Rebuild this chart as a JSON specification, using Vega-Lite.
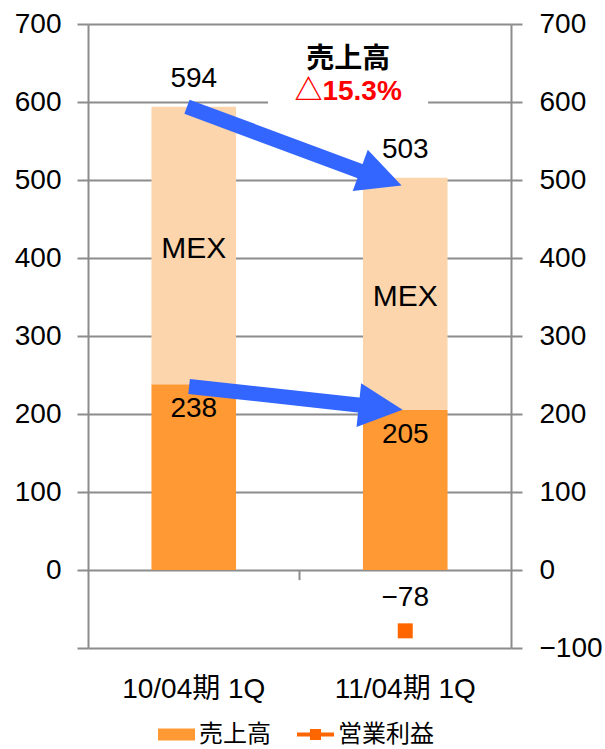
{
  "$schema": "https://vega.github.io/schema/vega-lite/v6.json",
  "width": 423,
  "height": 624,
  "autosize": {"type": "none"},
  "padding": {"left": 88, "top": 24, "right": 94, "bottom": 101},
  "config": {
    "font": "'Liberation Sans', 'Noto Sans CJK JP', sans-serif",
    "view": {"stroke": null},
    "axis": {
      "labelFont": "'Liberation Sans', 'Noto Sans CJK JP', sans-serif",
      "labelColor": "#000000",
      "domainColor": "#8C8C8C",
      "tickColor": "#8C8C8C",
      "gridColor": "#8C8C8C",
      "domainWidth": 2,
      "tickWidth": 2,
      "gridWidth": 2,
      "title": null
    },
    "legend": {
      "title": null,
      "orient": "none",
      "direction": "horizontal",
      "symbolSize": 1369,
      "symbolStrokeWidth": 0,
      "symbolOpacity": 1,
      "labelFontSize": 24,
      "labelFont": "'Noto Sans CJK JP', sans-serif",
      "labelColor": "#000000",
      "labelOffset": 4,
      "labelLimit": 300
    }
  },
  "datasets": {
    "quarters": [
      {"period": "10/04期 1Q", "sales": 594, "base_sales": 238, "segment": "MEX", "op": null},
      {"period": "11/04期 1Q", "sales": 503, "base_sales": 205, "segment": "MEX", "op": -78}
    ],
    "arrows": [
      {"arrow": "sales", "from_x": 0.468, "from_y": 594, "to_x": 1.31, "to_y": 509, "head_x": 1.385, "head_y": 502.6},
      {"arrow": "base", "from_x": 0.478, "from_y": 235.3, "to_x": 1.3, "to_y": 210.9, "head_x": 1.384, "head_y": 208.3}
    ],
    "notes": [
      {"kind": "title", "text": "売上高", "x": 1.23, "y": 653.8},
      {"kind": "change", "text": "△15.3%", "x": 1.23, "y": 613.3}
    ],
    "noteBox": [
      {"x0": 0.851, "x1": 1.608, "y0": 597.5, "y1": 636}
    ],
    "divider": [
      {"x": 1, "y0": 0, "y1": -13}
    ]
  },
  "layer": [
    {
      "data": {"name": "quarters"},
      "mark": {"type": "bar", "opacity": 1, "stroke": null},
      "encoding": {
        "x": {
          "field": "period", "type": "nominal", "sort": null,
          "scale": {"domain": ["10/04期 1Q", "11/04期 1Q"], "paddingInner": 0.6, "paddingOuter": 0.3},
          "axis": {
            "orient": "bottom", "domain": false, "ticks": false, "tickSize": 0,
            "labelAngle": 0, "labelFontSize": 28, "labelPadding": 27, "labelLimit": 300
          }
        },
        "y": {
          "field": "base_sales", "type": "quantitative",
          "scale": {"domain": [-100, 700], "nice": false},
          "axis": {
            "orient": "left", "grid": true,
            "values": [-100, 0, 100, 200, 300, 400, 500, 600, 700],
            "labelExpr": "datum.value < 0 ? '' : datum.label",
            "tickSize": 11, "labelPadding": 16, "labelFontSize": 28
          }
        },
        "fill": {
          "datum": "売上高",
          "type": "nominal",
          "scale": {"domain": ["売上高"], "range": ["#FF9933"]},
          "legend": {
            "legendX": 70,
            "legendY": 692,
            "symbolType": "M-1,-0.33H1V0.33H-1Z",
            "symbolFillColor": "#FF9933"
          }
        }
      }
    },
    {
      "data": {"name": "quarters"},
      "mark": {"type": "bar", "color": "#FCD5AC"},
      "encoding": {
        "x": {"field": "period", "type": "nominal", "sort": null, "scale": {"domain": ["10/04期 1Q", "11/04期 1Q"], "paddingInner": 0.6, "paddingOuter": 0.3}, "axis": null},
        "y": {
          "field": "sales", "type": "quantitative",
          "scale": {"domain": [-100, 700], "nice": false},
          "axis": {
            "orient": "right", "grid": false,
            "values": [-100, 0, 100, 200, 300, 400, 500, 600, 700],
            "tickSize": 11, "labelPadding": 17, "labelFontSize": 28
          }
        },
        "y2": {"field": "base_sales"}
      }
    },
    {
      "data": {"name": "noteBox"},
      "mark": {"type": "rect", "color": "#FFFFFF"},
      "encoding": {
        "x": {"field": "x0", "type": "quantitative", "scale": {"domain": [0, 2], "nice": false, "zero": false}, "axis": null},
        "x2": {"field": "x1"},
        "y": {"field": "y0", "type": "quantitative", "scale": {"domain": [-100, 700], "nice": false}, "axis": null},
        "y2": {"field": "y1"}
      }
    },
    {
      "data": {"name": "divider"},
      "mark": {"type": "rule", "color": "#8C8C8C", "strokeWidth": 2},
      "encoding": {
        "x": {"field": "x", "type": "quantitative", "scale": {"domain": [0, 2], "nice": false, "zero": false}, "axis": null},
        "y": {"field": "y0", "type": "quantitative", "scale": {"domain": [-100, 700], "nice": false}, "axis": null},
        "y2": {"field": "y1"}
      }
    },
    {
      "data": {"name": "arrows"},
      "mark": {"type": "rule", "color": "#3366FF", "strokeWidth": 15, "strokeCap": "butt"},
      "encoding": {
        "x": {"field": "from_x", "type": "quantitative", "scale": {"domain": [0, 2], "nice": false, "zero": false}, "axis": null},
        "x2": {"field": "to_x"},
        "y": {"field": "from_y", "type": "quantitative", "scale": {"domain": [-100, 700], "nice": false}, "axis": null},
        "y2": {"field": "to_y"}
      }
    },
    {
      "data": {"name": "arrows"},
      "transform": [{"filter": "datum.arrow === 'sales'"}],
      "mark": {"type": "point", "shape": "M-1,-1L1,0L-1,1Z", "size": 1936, "angle": 20, "filled": true, "color": "#3366FF", "opacity": 1},
      "encoding": {
        "x": {"field": "head_x", "type": "quantitative", "scale": {"domain": [0, 2], "nice": false, "zero": false}, "axis": null},
        "y": {"field": "head_y", "type": "quantitative", "scale": {"domain": [-100, 700], "nice": false}, "axis": null}
      }
    },
    {
      "data": {"name": "arrows"},
      "transform": [{"filter": "datum.arrow === 'base'"}],
      "mark": {"type": "point", "shape": "M-1,-1L1,0L-1,1Z", "size": 1936, "angle": 6, "filled": true, "color": "#3366FF", "opacity": 1},
      "encoding": {
        "x": {"field": "head_x", "type": "quantitative", "scale": {"domain": [0, 2], "nice": false, "zero": false}, "axis": null},
        "y": {"field": "head_y", "type": "quantitative", "scale": {"domain": [-100, 700], "nice": false}, "axis": null}
      }
    },
    {
      "data": {"name": "quarters"},
      "mark": {"type": "text", "fontSize": 28, "dy": -28, "color": "#000000"},
      "encoding": {
        "x": {"field": "period", "type": "nominal", "sort": null, "scale": {"domain": ["10/04期 1Q", "11/04期 1Q"], "paddingInner": 0.6, "paddingOuter": 0.3}, "axis": null},
        "y": {"field": "sales", "type": "quantitative", "scale": {"domain": [-100, 700], "nice": false}, "axis": null},
        "text": {"field": "sales", "type": "quantitative"}
      }
    },
    {
      "data": {"name": "quarters"},
      "mark": {"type": "text", "fontSize": 28, "dy": 25, "color": "#000000"},
      "encoding": {
        "x": {"field": "period", "type": "nominal", "sort": null, "scale": {"domain": ["10/04期 1Q", "11/04期 1Q"], "paddingInner": 0.6, "paddingOuter": 0.3}, "axis": null},
        "y": {"field": "base_sales", "type": "quantitative", "scale": {"domain": [-100, 700], "nice": false}, "axis": null},
        "text": {"field": "base_sales", "type": "quantitative"}
      }
    },
    {
      "data": {"name": "quarters"},
      "transform": [{"calculate": "(datum.sales + datum.base_sales) / 2", "as": "segment_mid"}],
      "mark": {"type": "text", "fontSize": 30, "dy": 3, "color": "#000000"},
      "encoding": {
        "x": {"field": "period", "type": "nominal", "sort": null, "scale": {"domain": ["10/04期 1Q", "11/04期 1Q"], "paddingInner": 0.6, "paddingOuter": 0.3}, "axis": null},
        "y": {"field": "segment_mid", "type": "quantitative", "scale": {"domain": [-100, 700], "nice": false}, "axis": null},
        "text": {"field": "segment"}
      }
    },
    {
      "data": {"name": "notes"},
      "transform": [{"filter": "datum.kind === 'title'"}],
      "mark": {"type": "text", "fontSize": 28, "fontWeight": "bold", "color": "#000000", "font": "'Noto Sans CJK JP', sans-serif"},
      "encoding": {
        "x": {"field": "x", "type": "quantitative", "scale": {"domain": [0, 2], "nice": false, "zero": false}, "axis": null},
        "y": {"field": "y", "type": "quantitative", "scale": {"domain": [-100, 700], "nice": false}, "axis": null},
        "text": {"field": "text"}
      }
    },
    {
      "data": {"name": "notes"},
      "transform": [{"filter": "datum.kind === 'change'"}],
      "mark": {"type": "text", "fontSize": 28, "fontWeight": "bold", "color": "#FF0000"},
      "encoding": {
        "x": {"field": "x", "type": "quantitative", "scale": {"domain": [0, 2], "nice": false, "zero": false}, "axis": null},
        "y": {"field": "y", "type": "quantitative", "scale": {"domain": [-100, 700], "nice": false}, "axis": null},
        "text": {"field": "text"}
      }
    },
    {
      "data": {"name": "quarters"},
      "transform": [{"filter": "datum.op != null"}],
      "mark": {"type": "text", "fontSize": 28, "dy": -33, "color": "#000000"},
      "encoding": {
        "x": {"field": "period", "type": "nominal", "sort": null, "scale": {"domain": ["10/04期 1Q", "11/04期 1Q"], "paddingInner": 0.6, "paddingOuter": 0.3}, "axis": null},
        "y": {"field": "op", "type": "quantitative", "scale": {"domain": [-100, 700], "nice": false}, "axis": null},
        "text": {"field": "op", "type": "quantitative"}
      }
    },
    {
      "data": {"name": "quarters"},
      "transform": [{"filter": "datum.op != null"}],
      "mark": {"type": "point", "shape": "square", "size": 225, "filled": true, "opacity": 1},
      "encoding": {
        "x": {"field": "period", "type": "nominal", "sort": null, "scale": {"domain": ["10/04期 1Q", "11/04期 1Q"], "paddingInner": 0.6, "paddingOuter": 0.3}, "axis": null},
        "y": {"field": "op", "type": "quantitative", "scale": {"domain": [-100, 700], "nice": false}, "axis": null},
        "color": {
          "datum": "営業利益",
          "type": "nominal",
          "scale": {"domain": ["営業利益"], "range": ["#FF6600"]},
          "legend": {
            "legendX": 209,
            "legendY": 692,
            "symbolType": "M-1,-0.11H1V0.11H-1Z M-0.3,-0.3H0.3V0.3H-0.3Z"
          }
        }
      }
    }
  ],
  "resolve": {
    "scale": {"x": "independent", "y": "independent", "color": "independent", "fill": "independent"},
    "legend": {"color": "independent", "fill": "independent"}
  }
}
